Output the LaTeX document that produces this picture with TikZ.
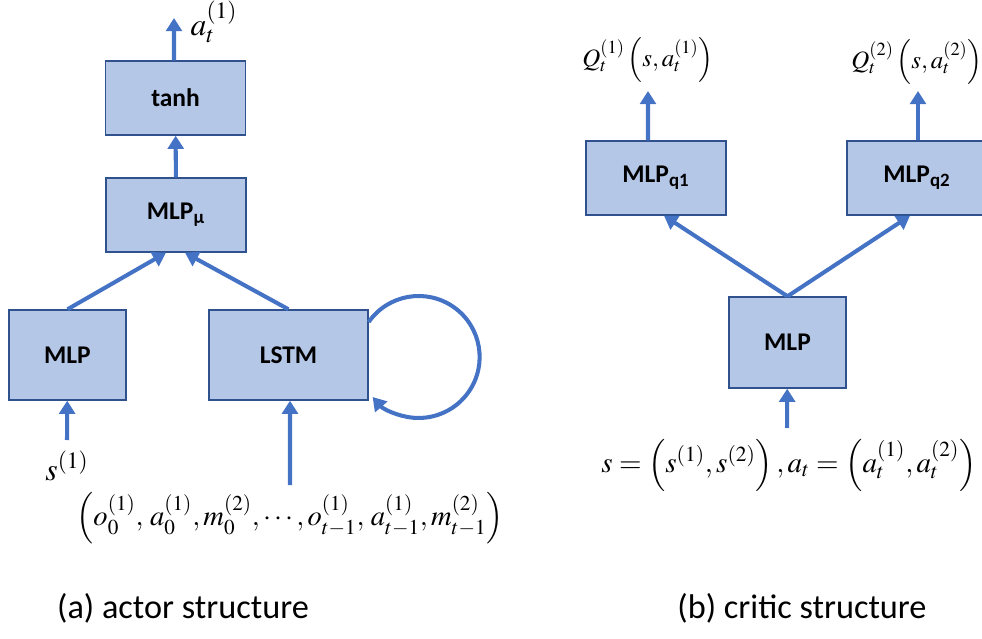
\documentclass[tikz,border=0pt]{standalone}
\usepackage{mathptmx}
\usepackage[no-math]{fontspec}
\setmainfont{Carlito}
\usetikzlibrary{arrows.meta,positioning}

\definecolor{boxfill}{RGB}{180,199,231}
\definecolor{boxline}{RGB}{47,82,143}
\definecolor{flowblue}{RGB}{68,114,196}

\tikzset{
  block/.style={draw=boxline, fill=boxfill, line width=0.8pt,
    minimum width=2.8cm, minimum height=1.48cm,
    font=\fontsize{14.5}{16}\selectfont\bfseries},
  flow/.style={draw=flowblue, line width=2.3pt, -{Triangle[width=9pt,length=7.5pt]}},
  mathlbl/.style={font=\fontsize{18}{20}\selectfont, inner sep=0pt},
  caption/.style={font=\fontsize{19.5}{22}\selectfont},
}

\begin{document}
\begin{tikzpicture}[x=0.02cm,y=-0.02cm]
\useasboundingbox (0,0) rectangle (982,638);

% actor
\node[block] (tanh) at (175.5,98) {tanh};
\node[block] (mlpmu) at (176,215) {MLP\textsubscript{μ}};
\node[block, minimum width=2.34cm, minimum height=1.8cm] (mlp) at (67.5,355) {MLP};
\node[block, minimum width=3.18cm, minimum height=1.8cm] (lstm) at (288.5,355) {LSTM};

\coordinate (atop) at (174,18);
\node[mathlbl] (at) at (214,22) {$a_t^{(1)}$};
\coordinate (sin) at (67,440);
\node[mathlbl] (s1) at (67,466) {$s^{(1)}$};
\coordinate (hin) at (290,485);
\node[mathlbl, font=\fontsize{16.3}{20}\selectfont] (hist) at (290,518) {$\left(o_0^{(1)},\,a_0^{(1)},m_0^{(2)},\cdots,o_{t-1}^{(1)},\,a_{t-1}^{(1)},m_{t-1}^{(2)}\right)$};

\draw[flow] ([xshift=-0.03cm]tanh.north) -- (atop);
\draw[flow] (mlpmu) -- (tanh);
\draw[flow] (mlp.north) -- ([xshift=-0.2cm]mlpmu.south);
\draw[flow] (lstm.north) -- ([xshift=0.18cm]mlpmu.south);
\draw[flow] ([yshift=0.66cm]lstm.east) arc[start angle=145, end angle=-139, radius=1.22cm];
\draw[flow] (sin) -- (mlp);
\draw[flow] (hin) -- ([xshift=0.03cm]lstm.south);

% critic
\node[block] (q1) at (656,178) {MLP\textsubscript{q1}};
\node[block] (q2) at (917,178) {MLP\textsubscript{q2}};
\node[block, minimum width=2.34cm, minimum height=1.82cm] (cmlp) at (787.5,342.5) {MLP};

\coordinate (q1top) at (648,91);
\coordinate (q2top) at (918,91);
\node[mathlbl, font=\fontsize{14.2}{16}\selectfont] (Q1) at (648,60) {$Q_t^{(1)}\left(s,a_t^{(1)}\right)$};
\node[mathlbl, font=\fontsize{14.2}{16}\selectfont] (Q2) at (917,62) {$Q_t^{(2)}\left(s,a_t^{(2)}\right)$};
\coordinate (cin) at (787,428);
\node[mathlbl, font=\fontsize{16.5}{20}\selectfont] (sa) at (789,465) {$s=\left(s^{(1)},s^{(2)}\right),a_t=\left(a_t^{(1)},a_t^{(2)}\right)$};

\draw[flow] ([xshift=-0.16cm]q1.north) -- (q1top);
\draw[flow] ([xshift=0.02cm]q2.north) -- (q2top);
\draw[flow] (cmlp.north) -- ([xshift=0.16cm]q1.south);
\draw[flow] (cmlp.north) -- ([xshift=-0.14cm]q2.south);
\draw[flow] (cin) -- (cmlp);

% captions
\node[caption] (capa) at (183,608) {(a) actor structure};
\node[caption] (capb) at (802,608) {(b) critic structure};
\end{tikzpicture}
\end{document}
